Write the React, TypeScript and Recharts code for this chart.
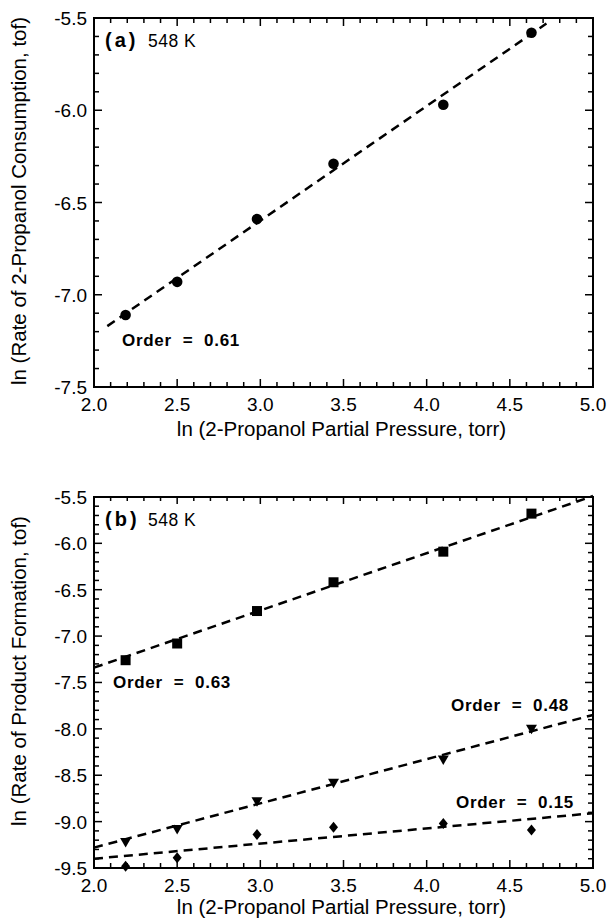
import { ScatterChart, Scatter, XAxis, YAxis, ReferenceArea } from "recharts";

// ln(2-propanol partial pressure, torr) for each run
const pressure = [2.19, 2.5, 2.98, 3.44, 4.1, 4.63];

// (a) ln(rate of 2-propanol consumption, tof)
const consumption = [-7.11, -6.93, -6.59, -6.29, -5.97, -5.58];
const consumptionFitX = [2.08, 4.72];
const consumptionFitY = [-7.17, -5.53];

// (b) ln(rate of product formation, tof)
const squareRate = [-7.26, -7.08, -6.73, -6.42, -6.09, -5.68];
const triangleRate = [-9.22, -9.08, -8.78, -8.58, -8.33, -8.0];
const diamondRate = [-9.48, -9.39, -9.14, -9.06, -9.02, -9.09];
const productFitX = [2.0, 5.0];
const squareFitY = [-7.34, -5.49];
const triangleFitY = [-9.28, -7.85];
const diamondFitY = [-9.4, -8.91];

// tick labels
const xMajor = [2.0, 2.5, 3.0, 3.5, 4.0, 4.5, 5.0];
const yMajorA = [-7.5, -7.0, -6.5, -6.0, -5.5];
const yMajorB = [-9.5, -9.0, -8.5, -8.0, -7.5, -7.0, -6.5, -6.0, -5.5];

const FONT = "'Liberation Sans', Arial, Helvetica, sans-serif";
const CHART_W = 609;
const Y_AXIS_W = 94;
const PLOT_W = 499;

function withMinor(majors: number[], parts: number) {
  const out: number[] = [];
  for (let i = 0; i < majors.length - 1; i++) {
    const step = (majors[i + 1] - majors[i]) / parts;
    for (let k = 0; k < parts; k++) out.push(+(majors[i] + k * step).toFixed(2));
  }
  out.push(majors[majors.length - 1]);
  return out;
}

const isMajor = (v: number, majors: number[]) => majors.some((m) => Math.abs(m - v) < 1e-6);

const toPoints = (xs: number[], ys: number[]) => xs.map((x, i) => ({ x, y: ys[i] }));

function XTick({ x, y, payload, plotH }: any) {
  const major = isMajor(payload.value, xMajor);
  const len = major ? 8 : 5;
  return (
    <g>
      <line x1={x} y1={y} x2={x} y2={y - len} stroke="#000" strokeWidth={1.5} />
      <line x1={x} y1={y - plotH} x2={x} y2={y - plotH + len} stroke="#000" strokeWidth={1.5} />
      {major && (
        <text x={x} y={y + 24} textAnchor="middle" fontSize={19} fontFamily={FONT} fill="#000">
          {payload.value.toFixed(1)}
        </text>
      )}
    </g>
  );
}

function YTick({ x, y, payload, majors }: any) {
  const major = isMajor(payload.value, majors);
  const len = major ? 8 : 5;
  return (
    <g>
      <line x1={x} y1={y} x2={x + len} y2={y} stroke="#000" strokeWidth={1.5} />
      <line x1={x + PLOT_W} y1={y} x2={x + PLOT_W - len} y2={y} stroke="#000" strokeWidth={1.5} />
      {major && (
        <text x={x - 7} y={y + 7} textAnchor="end" fontSize={19} fontFamily={FONT} fill="#000">
          {payload.value.toFixed(1)}
        </text>
      )}
    </g>
  );
}

const Square = ({ cx, cy }: any) => <rect x={cx - 5} y={cy - 5} width={10} height={10} fill="#000" />;
const TriangleDown = ({ cx, cy }: any) => (
  <path d={`M${cx - 5.5},${cy - 4}L${cx + 5.5},${cy - 4}L${cx},${cy + 5.5}Z`} fill="#000" />
);
const Diamond = ({ cx, cy }: any) => (
  <path d={`M${cx},${cy - 5.5}L${cx + 4.5},${cy}L${cx},${cy + 5.5}L${cx - 4.5},${cy}Z`} fill="#000" />
);
const Dot = ({ cx, cy }: any) => <circle cx={cx} cy={cy} r={5.3} fill="#000" />;
const NoMark = () => <g />;

const fitLine = { stroke: "#000", strokeWidth: 2.5, strokeDasharray: "9 6" };

function OrderLabel({ x, y, text }: { x: number; y: number; text: string }) {
  return (
    <text x={x} y={y} fontSize={17} fontWeight="bold" fontFamily={FONT} letterSpacing={0.7} style={{ whiteSpace: "pre" }}>
      {text}
    </text>
  );
}

function PanelTag({ y, tag }: { y: number; tag: string }) {
  return (
    <g fontFamily={FONT} fill="#000">
      <text x={105} y={y} fontSize={20} fontWeight="bold" letterSpacing={3}>
        {tag}
      </text>
      <text x={148} y={y} fontSize={17.5} letterSpacing={0.5}>
        548 K
      </text>
    </g>
  );
}

function Panel({
  height,
  top,
  plotH,
  yMajor,
  yTitle,
  yTitleY,
  xTitleY,
  children,
  notes,
}: any) {
  const yTicks = withMinor(yMajor, 5);
  const xTicks = withMinor(xMajor, 5);
  const yDomain = [yMajor[0], yMajor[yMajor.length - 1]];
  const bottom = height - top - plotH;
  return (
    <div style={{ position: "relative", width: CHART_W, height }}>
      <ScatterChart width={CHART_W} height={height} margin={{ top, right: CHART_W - Y_AXIS_W - PLOT_W, bottom: 0, left: 0 }}>
        <XAxis
          type="number"
          dataKey="x"
          domain={[2, 5]}
          ticks={xTicks}
          interval={0}
          height={bottom}
          axisLine={false}
          tickLine={false}
          tickSize={0}
          tickMargin={0}
          tick={(p: any) => <XTick {...p} plotH={plotH} />}
        />
        <YAxis
          type="number"
          dataKey="y"
          domain={yDomain}
          ticks={yTicks}
          interval={0}
          width={Y_AXIS_W}
          axisLine={false}
          tickLine={false}
          tickSize={0}
          tickMargin={0}
          tick={(p: any) => <YTick {...p} majors={yMajor} />}
        />
        <ReferenceArea x1={2} x2={5} y1={yDomain[0]} y2={yDomain[1]} fill="none" stroke="#000" strokeWidth={2} />
        {children}
      </ScatterChart>
      <svg width={CHART_W} height={height} style={{ position: "absolute", left: 0, top: 0, pointerEvents: "none" }}>
        <text
          x={26}
          y={yTitleY}
          transform={`rotate(-90 26 ${yTitleY})`}
          textAnchor="middle"
          fontSize={20.5}
          fontFamily={FONT}
          fill="#000"
        >
          {yTitle}
        </text>
        <text x={Y_AXIS_W + PLOT_W / 2 - 2} y={xTitleY} textAnchor="middle" fontSize={20.5} fontFamily={FONT} fill="#000">
          ln (2-Propanol Partial Pressure, torr)
        </text>
        {notes}
      </svg>
    </div>
  );
}

export default function App() {
  return (
    <div style={{ position: "absolute", left: 0, top: 0, width: 609, height: 921, background: "#fff" }}>
      <Panel
        height={450}
        top={18}
        plotH={369}
        yMajor={yMajorA}
        yTitle="ln (Rate of 2-Propanol Consumption, tof)"
        yTitleY={201}
        xTitleY={436}
        notes={
          <>
            <PanelTag y={47} tag="(a)" />
            <OrderLabel x={122} y={346} text="Order  =  0.61" />
          </>
        }
      >
        <Scatter
          data={toPoints(consumptionFitX, consumptionFitY)}
          line={fitLine}
          lineType="joint"
          shape={NoMark}
          isAnimationActive={false}
        />
        <Scatter data={toPoints(pressure, consumption)} shape={Dot} isAnimationActive={false} />
      </Panel>
      <Panel
        height={471}
        top={46}
        plotH={372}
        yMajor={yMajorB}
        yTitle="ln (Rate of Product Formation, tof)"
        yTitleY={221}
        xTitleY={464}
        notes={
          <>
            <PanelTag y={76} tag="(b)" />
            <OrderLabel x={113} y={238} text="Order  =  0.63" />
            <OrderLabel x={451} y={261} text="Order  =  0.48" />
            <OrderLabel x={456} y={358} text="Order  =  0.15" />
          </>
        }
      >
        <Scatter data={toPoints(productFitX, squareFitY)} line={fitLine} lineType="joint" shape={NoMark} isAnimationActive={false} />
        <Scatter data={toPoints(productFitX, triangleFitY)} line={fitLine} lineType="joint" shape={NoMark} isAnimationActive={false} />
        <Scatter data={toPoints(productFitX, diamondFitY)} line={fitLine} lineType="joint" shape={NoMark} isAnimationActive={false} />
        <Scatter data={toPoints(pressure, squareRate)} shape={Square} isAnimationActive={false} />
        <Scatter data={toPoints(pressure, triangleRate)} shape={TriangleDown} isAnimationActive={false} />
        <Scatter data={toPoints(pressure, diamondRate)} shape={Diamond} isAnimationActive={false} />
      </Panel>
    </div>
  );
}
